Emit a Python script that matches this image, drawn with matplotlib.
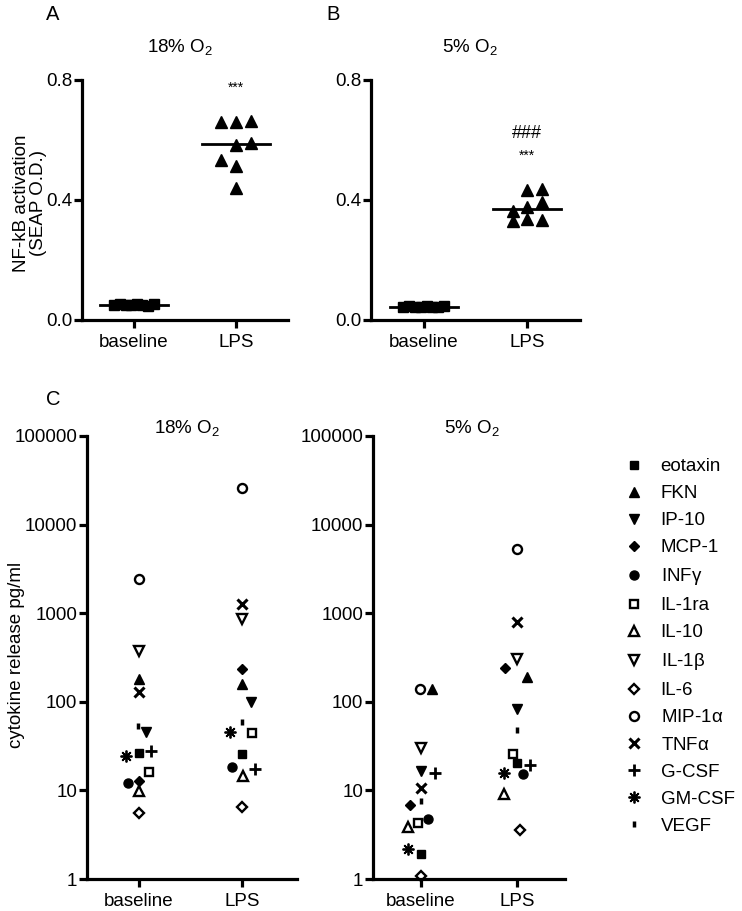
import numpy as np
import matplotlib
matplotlib.use('Agg')
import matplotlib.pyplot as plt
from matplotlib.lines import Line2D

plt.rcParams['font.family'] = ['Liberation Sans', 'DejaVu Sans']
plt.rcParams['mathtext.fontset'] = 'custom'
plt.rcParams['mathtext.rm'] = 'Liberation Sans'
plt.rcParams['mathtext.it'] = 'Liberation Sans:italic'
plt.rcParams['mathtext.default'] = 'regular'

# Data
groups = ['baseline', 'LPS']

# panel A (18% O2) and B (5% O2): NF-kB activation
a_base = [0.050, 0.052, 0.049, 0.051, 0.053, 0.050, 0.048, 0.052]
a_lps = [0.661, 0.661, 0.664, 0.585, 0.590, 0.535, 0.515, 0.440]
a_lps_off = [-0.147, 0, 0.147, 0, 0.147, -0.147, 0, 0]
b_base = [0.045, 0.046, 0.044, 0.045, 0.047, 0.045, 0.044, 0.046]
b_lps = [0.433, 0.438, 0.392, 0.362, 0.376, 0.330, 0.337, 0.333]
b_lps_off = [0, 0.14, 0.14, -0.14, 0, -0.14, 0, 0.14]
base_off = [-0.2, -0.14, -0.08, -0.03, 0.03, 0.08, 0.14, 0.2]

# panel C: cytokines
cytokines = ['eotaxin', 'FKN', 'IP-10', 'MCP-1', 'INF$\\gamma$', 'IL-1ra', 'IL-10',
             'IL-1$\\beta$', 'IL-6', 'MIP-1$\\alpha$', 'TNF$\\alpha$', 'G-CSF',
             'GM-CSF', 'VEGF']
c18_base = [26.6, 183, 46, 12.9, 12.2, 16.2, 9.9, 376, 5.6, 2414, 130, 28, 24.4, 53]
c18_lps = [25.7, 158, 100, 234, 18.5, 45, 14.5, 853, 6.5, 26100, 1270, 17.3, 46, 59]
c5_base = [1.9, 138, 16.5, 6.8, 4.8, 4.3, 3.9, 29.8, 1.08, 138, 10.7, 15.6, 2.2, 7.6]
c5_lps = [20.5, 191, 84, 238, 15.3, 25.7, 9.1, 308, 3.6, 5260, 802, 19.3, 15.8, 48]
off18_base = [0, 0, 0.07, 0, -0.107, 0.104, 0, 0, 0, 0, 0, 0.12, -0.123, -0.01]
off18_lps = [0, 0, 0.09, 0, -0.094, 0.097, 0.01, 0, 0, 0, 0, 0.123, -0.12, 0]
off5_base = [0, 0.115, 0, -0.118, 0.07, -0.035, -0.139, 0, 0, -0.007, 0, 0.15, -0.139, 0]
off5_lps = [0, 0.104, 0, -0.128, 0.0625, -0.042, -0.139, 0, 0.028, 0, 0, 0.139, -0.139, 0]

# marker styles: (marker, size, filled, edge width)
styles = [('s', 6, True, 1), ('^', 7.5, True, 1), ('v', 7.5, True, 1), ('D', 5, True, 1),
          ('o', 6.5, True, 1), ('s', 6, False, 1.7), ('^', 7, False, 1.7),
          ('v', 7, False, 1.7), ('D', 5.5, False, 1.7), ('o', 6.5, False, 1.7),
          ('x', 7.5, True, 2.2), ('+', 9, True, 2.0), ((8, 2, 0), 8.5, True, 1.3),
          ('|', 5, True, 2.5)]

fs = 13.5
fig = plt.figure(figsize=(7.42, 9.11), dpi=100)


def style_axes(ax):
    for s in ['top', 'right']:
        ax.spines[s].set_visible(False)
    for s in ['left', 'bottom']:
        ax.spines[s].set_linewidth(2.3)
    ax.tick_params(width=2.3, length=6, labelsize=fs, pad=1)
    ax.tick_params(axis='x', pad=4)
    ax.set_xticks([0, 1])
    ax.set_xticklabels(groups)
    ax.set_xlim(-0.51, 1.51)


def nfkb(ax, base, lps, lps_off):
    ax.plot(np.array(base_off), base, 's', color='black', ms=7, clip_on=False)
    ax.plot(1 + np.array(lps_off), lps, '^', color='black', ms=8.5, clip_on=False)
    for x, vals in [(0, base), (1, lps)]:
        m = np.median(vals)
        ax.plot([x - 0.33, x + 0.33], [m, m], color='black', lw=2)
    ax.set_ylim(0, 0.8)
    ax.set_yticks([0.0, 0.4, 0.8])
    ax.set_yticklabels(['0.0', '0.4', '0.8'])
    style_axes(ax)


axA = fig.add_axes([82 / 742, 1 - 320 / 911, 206 / 742, 240 / 911])
nfkb(axA, a_base, a_lps, a_lps_off)
axA.text(1, 0.775, '***', ha='center', va='center', fontsize=10)

axB = fig.add_axes([371 / 742, 1 - 320 / 911, 209 / 742, 240 / 911])
nfkb(axB, b_base, b_lps, b_lps_off)
axB.text(1, 0.623, '###', ha='center', va='center', fontsize=13)
axB.text(1, 0.548, '***', ha='center', va='center', fontsize=10)


def cyto(ax, base, lps, ob, ol):
    for i, (mk, ms, filled, mew) in enumerate(styles):
        fc = 'black' if filled else 'white'
        ax.plot(ob[i], base[i], marker=mk, ms=ms, mfc=fc, mec='black', mew=mew,
                ls='none', clip_on=False)
        ax.plot(1 + ol[i], lps[i], marker=mk, ms=ms, mfc=fc, mec='black', mew=mew,
                ls='none', clip_on=False)
    ax.set_yscale('log')
    ax.set_ylim(1, 100000)
    ticks = [1, 10, 100, 1000, 10000, 100000]
    ax.set_yticks(ticks)
    ax.set_yticklabels([str(t) for t in ticks])
    style_axes(ax)
    ax.minorticks_off()


axC1 = fig.add_axes([87 / 742, 1 - 879 / 911, 210 / 742, 443 / 911])
cyto(axC1, c18_base, c18_lps, off18_base, off18_lps)
axC1.set_xlim(-0.5, 1.53)

axC2 = fig.add_axes([373 / 742, 1 - 879 / 911, 192 / 742, 443 / 911])
cyto(axC2, c5_base, c5_lps, off5_base, off5_lps)
axC2.set_xlim(-0.5, 1.5)

# titles and labels
fig.text(53 / 742, 1 - 15 / 911, 'A', fontsize=fs + 1, ha='center', va='center')
fig.text(333 / 742, 1 - 15 / 911, 'B', fontsize=fs + 1, ha='center', va='center')
fig.text(53 / 742, 1 - 400 / 911, 'C', fontsize=fs + 1, ha='center', va='center')
fig.text(180 / 742, 1 - 47 / 911, '18% O$_2$', fontsize=fs, ha='center', va='center')
fig.text(470 / 742, 1 - 47 / 911, '5% O$_2$', fontsize=fs, ha='center', va='center')
fig.text(187 / 742, 1 - 428 / 911, '18% O$_2$', fontsize=fs, ha='center', va='center')
fig.text(472 / 742, 1 - 428 / 911, '5% O$_2$', fontsize=fs, ha='center', va='center')
fig.text(30 / 742, 1 - 203 / 911, 'NF-kB activation\n(SEAP O.D.)', fontsize=fs,
         rotation=90, ha='center', va='center', multialignment='center', linespacing=0.95)
fig.text(17 / 742, 1 - 655 / 911, 'cytokine release pg/ml', fontsize=fs,
         rotation=90, ha='center', va='center')

# legend
handles = []
for (mk, ms, filled, mew), name in zip(styles, cytokines):
    handles.append(Line2D([], [], marker=mk, ms=ms, mfc='black' if filled else 'white',
                          mec='black', mew=mew, ls='none', label=name))
fig.legend(handles=handles, loc='upper left', bbox_to_anchor=(625 / 742, 1 - 458 / 911),
           frameon=False, fontsize=fs, handlelength=1.0, handletextpad=0.9,
           labelspacing=0.53, borderpad=0, borderaxespad=0)

plt.savefig('out.png', dpi=100)
